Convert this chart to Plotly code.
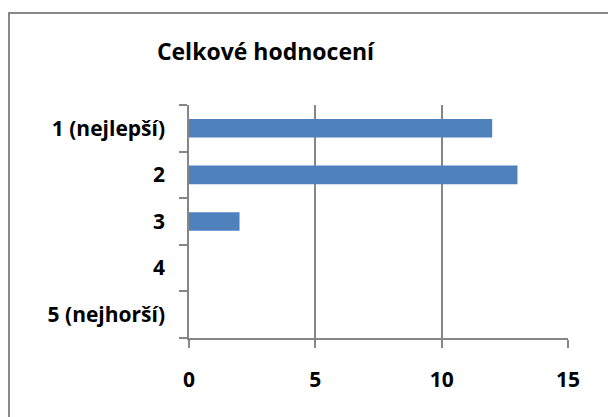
import plotly.graph_objects as go

categories = ["1 (nejlepší)", "2", "3", "4", "5 (nejhorší)"]
values = [12, 13, 2, 0, 0]
x_ticks = [0, 5, 10, 15]
title_text = "Celkové hodnocení"

W, H = 608, 417
L, R, T, B = 189, 40, 105, 79
pw, ph = W - L - R, H - T - B

def px_to_paper_x(px):
    return (px - L) / pw

def px_to_paper_y(py):
    return (H - B - py) / ph

FONT = "Open Sans"
AX = "#868686"

fig = go.Figure(go.Bar(
    y=categories, x=values, orientation="h",
    marker=dict(color="#4F81BD", line=dict(width=0)),
    width=0.4,
))

fig.update_layout(
    width=W, height=H,
    margin=dict(l=L, r=R, t=T, b=B),
    paper_bgcolor="white", plot_bgcolor="white",
    showlegend=False,
    title=dict(text="<b>" + title_text + "</b>", x=265.5 / W, xanchor="center",
               y=1 - 52 / H, yanchor="middle", xref="container", yref="container",
               font=dict(family=FONT, size=23, color="black")),
    font=dict(family=FONT, color="black"),
)

fig.update_xaxes(
    range=[0, 15], tickvals=x_ticks, ticktext=[f"<b>{v}</b>" for v in x_ticks],
    showgrid=True, gridcolor=AX, gridwidth=1.5,
    showline=True, linecolor=AX, linewidth=1.5,
    ticks="outside", ticklen=8, tickcolor=AX, tickwidth=1.5,
    ticklabelstandoff=14, zeroline=False,
    tickfont=dict(family=FONT, size=21, color="black"),
)
fig.update_yaxes(
    type="category", categoryorder="array", categoryarray=categories,
    autorange="reversed",
    tickvals=categories, ticktext=[f"<b>{c}</b>" for c in categories],
    showgrid=False, showline=True, linecolor=AX, linewidth=1.5,
    ticks="outside", ticklen=8, tickcolor=AX, tickwidth=1.5, tickson="boundaries",
    ticklabelstandoff=18,
    tickfont=dict(family=FONT, size=21, color="black"),
)

fig.add_shape(type="rect", xref="paper", yref="paper",
              x0=px_to_paper_x(9), x1=px_to_paper_x(640),
              y0=px_to_paper_y(440), y1=px_to_paper_y(13),
              line=dict(color="#888888", width=2), fillcolor="rgba(0,0,0,0)", layer="above")

fig.write_html("out.html", config={"displayModeBar": False},
               post_script="document.body.style.margin='0';document.body.style.overflow='hidden';")
